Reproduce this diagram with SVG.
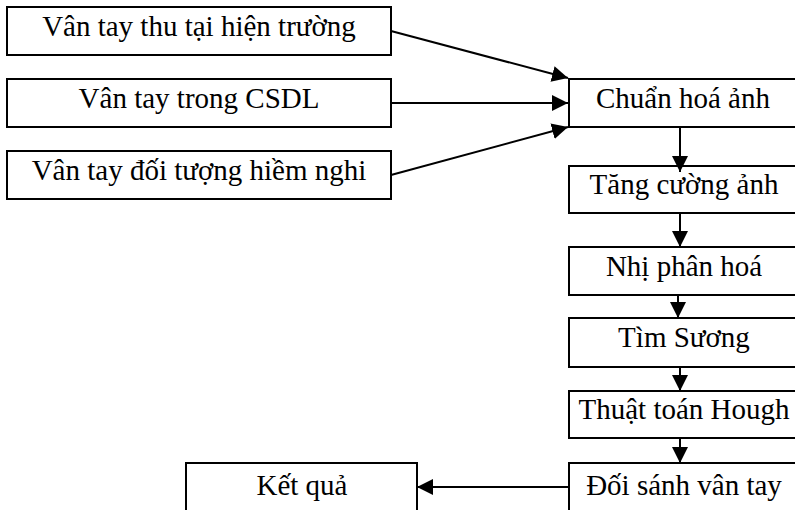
<svg xmlns="http://www.w3.org/2000/svg" width="795" height="510" viewBox="0 0 795 510">
<style>
.box{fill:#fff;stroke:#000;stroke-width:2}
.t{font-family:"Liberation Serif","Times New Roman",serif;font-size:29px;fill:#000;text-anchor:middle}
.c{stroke:#000;stroke-width:2;fill:none;marker-end:url(#ah)}
</style>
<defs>
<marker id="ah" markerUnits="userSpaceOnUse" markerWidth="16" markerHeight="16" viewBox="0 0 16 16" refX="16" refY="8" orient="auto">
<path d="M0,0 L16,8 L0,16 Z" fill="#000"/>
</marker>
</defs>
<rect width="795" height="510" fill="#fff"/>
<g id="n1"><rect class="box" x="7" y="7" width="384" height="48"/><text class="t" x="199" y="36">Vân tay thu tại hiện trường</text></g>
<g id="n2"><rect class="box" x="7" y="79" width="384" height="48"/><text class="t" x="199" y="108">Vân tay trong CSDL</text></g>
<g id="n3"><rect class="box" x="7" y="151" width="384" height="48"/><text class="t" x="199" y="180">Vân tay đối tượng hiềm nghi</text></g>
<g id="n4"><rect class="box" x="569" y="79" width="232" height="48"/><text class="t" x="683" y="108">Chuẩn hoá ảnh</text></g>
<g id="n5"><rect class="box" x="569" y="166" width="232" height="47"/><text class="t" x="684" y="194">Tăng cường ảnh</text></g>
<g id="n6"><rect class="box" x="569" y="247" width="232" height="48"/><text class="t" x="684" y="276">Nhị phân hoá</text></g>
<g id="n7"><rect class="box" x="569" y="318" width="232" height="49"/><text class="t" x="684" y="347">Tìm Sương</text></g>
<g id="n8"><rect class="box" x="569" y="391" width="232" height="47"/><text class="t" x="684" y="419">Thuật toán Hough</text></g>
<g id="n9"><rect class="box" x="569" y="463" width="232" height="60"/><text class="t" x="684" y="495">Đối sánh vân tay</text></g>
<g id="n10"><rect class="box" x="186" y="463" width="231" height="60"/><text class="t" x="302" y="495">Kết quả</text></g>
<g id="connectors">
<line class="c" x1="391" y1="31" x2="568" y2="78"/>
<line class="c" x1="391" y1="103" x2="568" y2="103"/>
<line class="c" x1="391" y1="175" x2="568" y2="127"/>
<line class="c" x1="680" y1="127" x2="680" y2="172"/>
<line class="c" x1="680" y1="213" x2="680" y2="247"/>
<line class="c" x1="678" y1="295" x2="678" y2="318"/>
<line class="c" x1="680" y1="367" x2="680" y2="391"/>
<line class="c" x1="680" y1="438" x2="680" y2="463"/>
<line class="c" x1="569" y1="487" x2="417" y2="487"/>
</g>
</svg>
